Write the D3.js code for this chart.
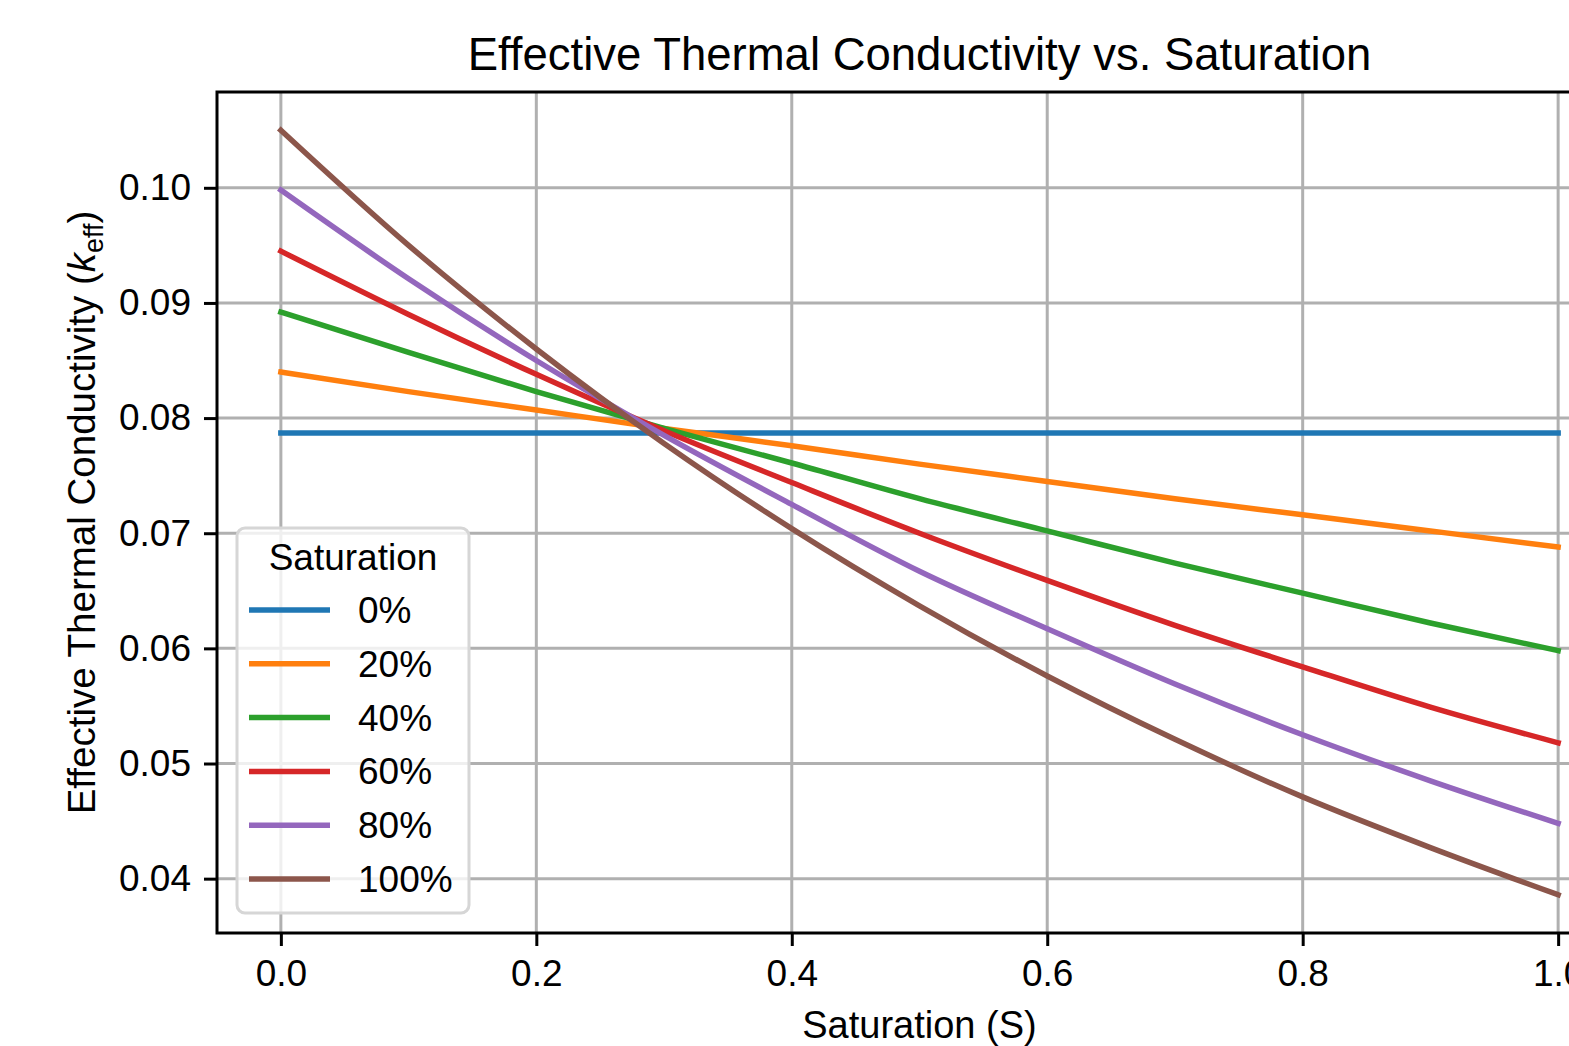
<!DOCTYPE html>
<html>
<head>
<meta charset="utf-8">
<script src="https://cdn.jsdelivr.net/npm/d3@7"></script>
<style>
  body { margin: 0; background: #fff; }
  svg { display: block; font-family: "Liberation Sans", Arial, sans-serif; }
</style>
</head>
<body>
<svg id="chart"></svg>
<script>
width = 1569
height = 1046

// x positions (saturation S)
saturation = [0, 0.1, 0.2, 0.3, 0.4, 0.5, 0.6, 0.7, 0.8, 0.9, 1.0]

// series names as in the legend
seriesNames = ["0%", "20%", "40%", "60%", "80%", "100%"]

// k_eff values, one per saturation step
keff0   = [0.0787, 0.0787, 0.0787, 0.0787, 0.0787, 0.0787, 0.0787, 0.0787, 0.0787, 0.0787, 0.0787]
keff20  = [0.0840, 0.0823, 0.0807, 0.0791, 0.0776, 0.0760, 0.0745, 0.0730, 0.0716, 0.0702, 0.0688]
keff40  = [0.0892, 0.0857, 0.0823, 0.0791, 0.0761, 0.0730, 0.0702, 0.0674, 0.0648, 0.0622, 0.0598]
keff60  = [0.0945, 0.0890, 0.0838, 0.0789, 0.0744, 0.0700, 0.0659, 0.0620, 0.0584, 0.0549, 0.0518]
keff80  = [0.0998, 0.0921, 0.0850, 0.0785, 0.0725, 0.0667, 0.0617, 0.0569, 0.0525, 0.0485, 0.0448]
keff100 = [0.1050, 0.0950, 0.0860, 0.0778, 0.0704, 0.0637, 0.0576, 0.0521, 0.0471, 0.0427, 0.0386]

xTicks = [0, 0.2, 0.4, 0.6, 0.8, 1.0]
yTicks = [0.04, 0.05, 0.06, 0.07, 0.08, 0.09, 0.10]

colors = ["#1f77b4", "#ff7f0e", "#2ca02c", "#d62728", "#9467bd", "#8c564b"]

const series = [keff0, keff20, keff40, keff60, keff80, keff100].map((vals, i) => ({
  name: seriesNames[i],
  color: colors[i],
  points: vals.map((v, j) => ({ s: saturation[j], k: v }))
}))

// axes box (right edge runs past the window, like the reference)
const margin = { left: 217, top: 92, right: 1622, bottom: 933 }

const x = d3.scaleLinear().domain([-0.05, 1.05]).range([margin.left, margin.right])
const y = d3.scaleLinear().domain([0.03528, 0.10832]).range([margin.bottom, margin.top])

const svg = d3.select("#chart")
  .attr("width", width)
  .attr("height", height)

svg.append("defs").append("clipPath").attr("id", "plot-clip")
  .append("rect")
  .attr("x", margin.left).attr("y", margin.top)
  .attr("width", margin.right - margin.left).attr("height", margin.bottom - margin.top)

// grid
const grid = svg.append("g").attr("stroke", "#b0b0b0").attr("stroke-width", 3)
grid.selectAll("line.gx").data(xTicks).join("line")
  .attr("x1", d => x(d)).attr("x2", d => x(d))
  .attr("y1", margin.top).attr("y2", margin.bottom)
grid.selectAll("line.gy").data(yTicks).join("line")
  .attr("class", "gy")
  .attr("x1", margin.left).attr("x2", margin.right)
  .attr("y1", d => y(d)).attr("y2", d => y(d))

// curves
const line = d3.line()
  .x(d => x(d.s))
  .y(d => y(d.k))
  .curve(d3.curveMonotoneX)

svg.append("g")
  .attr("clip-path", "url(#plot-clip)")
  .selectAll("path")
  .data(series)
  .join("path")
  .attr("fill", "none")
  .attr("stroke", d => d.color)
  .attr("stroke-width", 5.5)
  .attr("stroke-linecap", "square")
  .attr("d", d => line(d.points))

// axes
const xAxis = svg.append("g")
  .attr("transform", `translate(0,${margin.bottom})`)
  .call(d3.axisBottom(x).tickValues(xTicks).tickFormat(d3.format(".1f")).tickSize(13).tickPadding(14))
const yAxis = svg.append("g")
  .attr("transform", `translate(${margin.left},0)`)
  .call(d3.axisLeft(y).tickValues(yTicks).tickFormat(d3.format(".2f")).tickSize(13).tickPadding(13))

for (const ax of [xAxis, yAxis]) {
  ax.select(".domain").remove()
  ax.selectAll(".tick line").attr("stroke", "#000").attr("stroke-width", 3)
  ax.selectAll(".tick text").attr("fill", "#000").style("font-size", "37px")
    .style("font-family", "'Liberation Sans', Arial, sans-serif")
}

// spines
svg.append("rect")
  .attr("x", margin.left).attr("y", margin.top)
  .attr("width", margin.right - margin.left).attr("height", margin.bottom - margin.top)
  .attr("fill", "none").attr("stroke", "#000").attr("stroke-width", 3)

// title and labels
svg.append("text")
  .attr("x", (margin.left + margin.right) / 2).attr("y", 70)
  .attr("text-anchor", "middle").style("font-size", "45.5px")
  .text("Effective Thermal Conductivity vs. Saturation")

svg.append("text")
  .attr("x", (margin.left + margin.right) / 2).attr("y", 1038)
  .attr("text-anchor", "middle").style("font-size", "38px")
  .text("Saturation (S)")

const yLabel = svg.append("text")
  .attr("transform", `translate(95,${(margin.top + margin.bottom) / 2}) rotate(-90)`)
  .attr("text-anchor", "middle").style("font-size", "38.5px")
yLabel.append("tspan").text("Effective Thermal Conductivity (")
yLabel.append("tspan").attr("font-style", "italic").text("k")
yLabel.append("tspan").attr("dy", 8).style("font-size", "27px").text("eff")
yLabel.append("tspan").attr("dy", -8).text(")")

// legend
const legend = svg.append("g").attr("class", "legend")
legend.append("rect")
  .attr("x", 237).attr("y", 528).attr("width", 232).attr("height", 385)
  .attr("rx", 8)
  .attr("fill", "#fff").attr("fill-opacity", 0.8)
  .attr("stroke", "#d6d6d6").attr("stroke-width", 3)

legend.append("text")
  .attr("x", 353).attr("y", 570)
  .attr("text-anchor", "middle").style("font-size", "37px")
  .text("Saturation")

const entry = legend.selectAll("g.entry")
  .data(series)
  .join("g")
  .attr("class", "entry")
  .attr("transform", (d, i) => `translate(0,${610 + i * 53.8})`)

entry.append("line")
  .attr("x1", 249).attr("x2", 330)
  .attr("stroke", d => d.color).attr("stroke-width", 5.5)

entry.append("text")
  .attr("x", 358).attr("dy", "0.35em")
  .style("font-size", "37px")
  .text(d => d.name)
</script>
</body>
</html>
